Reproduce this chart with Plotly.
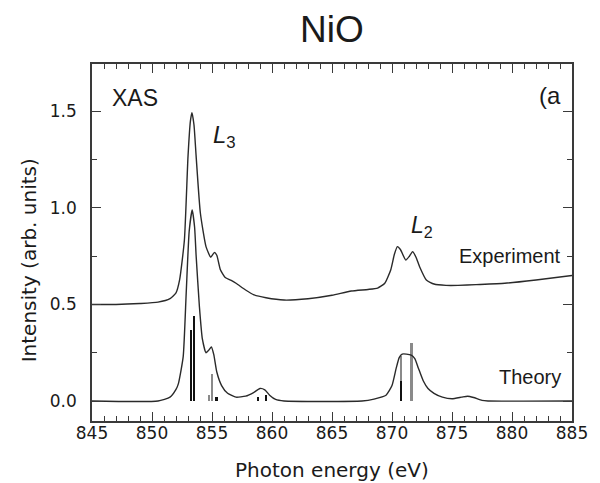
import plotly.graph_objects as go

# Experimental Ni L-edge XAS of NiO (offset by 0.5)
exp_energy = [845.0, 847.0, 849.0, 850.5, 851.5, 852.0, 852.3, 852.7, 853.0, 853.2,
              853.33, 853.5, 853.68, 854.03, 854.5, 854.9, 855.2, 855.4, 855.7, 856.1,
              856.6, 857.0, 857.8, 858.5, 859.5, 861.0, 863.0, 865.0, 866.6, 868.0,
              868.8, 869.4, 869.9, 870.2, 870.45, 870.7, 871.15, 871.45, 871.72, 872.0,
              872.3, 872.86, 873.5, 874.5, 875.5, 877.0, 879.4, 882.0, 885.0]
exp_intensity = [0.50, 0.50, 0.505, 0.512, 0.53, 0.56, 0.627, 0.834, 1.266, 1.45,
                 1.494, 1.43, 1.266, 0.974, 0.80, 0.745, 0.77, 0.755, 0.68, 0.64,
                 0.625, 0.61, 0.575, 0.55, 0.535, 0.523, 0.53, 0.548, 0.57, 0.578,
                 0.585, 0.61, 0.68, 0.76, 0.80, 0.785, 0.73, 0.75, 0.774, 0.745,
                 0.696, 0.627, 0.606, 0.599, 0.599, 0.603, 0.61, 0.627, 0.65]

# Calculated spectrum (broadened)
theo_energy = [845.0, 850.5, 851.5, 852.0, 852.2, 852.6, 852.85, 853.1, 853.35, 853.55,
               853.68, 853.95, 854.2, 854.5, 854.75, 854.95, 855.15, 855.4, 855.8, 856.3,
               857.0, 857.8, 858.5, 859.0, 859.4, 859.8, 860.3, 861.0, 867.5, 868.5,
               869.5, 870.0, 870.35, 870.6, 870.85, 871.2, 871.6, 871.9, 872.2, 872.6,
               873.0, 873.5, 874.2, 875.0, 875.8, 876.3, 876.8, 877.5, 878.0, 885.0]
theo_intensity = [0.0, 0.0, 0.02, 0.06, 0.09, 0.23, 0.56, 0.88, 0.99, 0.90,
                  0.75, 0.49, 0.32, 0.25, 0.265, 0.28, 0.24, 0.15, 0.08, 0.04,
                  0.02, 0.025, 0.045, 0.065, 0.058, 0.03, 0.008, 0.0, 0.0, 0.01,
                  0.03, 0.08, 0.17, 0.225, 0.243, 0.243, 0.238, 0.22, 0.17, 0.105,
                  0.065, 0.04, 0.02, 0.012, 0.02, 0.025, 0.018, 0.003, 0.0, 0.0]

# Multiplet lines (unbroadened)
gray_line_energy = [854.75, 855.05, 870.8, 871.65]
gray_line_height = [0.03, 0.14, 0.235, 0.30]
black_line_energy = [853.28, 853.5, 855.4, 858.85, 859.5, 870.8]
black_line_height = [0.37, 0.44, 0.02, 0.02, 0.03, 0.105]

x_ticks = [845, 850, 855, 860, 865, 870, 875, 880, 885]
y_ticks = [0.0, 0.5, 1.0, 1.5]

ink = "#1a1a1a"
frame = "#3a3a3a"

fig = go.Figure()

fig.add_trace(go.Bar(x=gray_line_energy, y=gray_line_height, width=0.14,
                     marker=dict(color="#8a8a8a", line=dict(width=0)),
                     showlegend=False, hoverinfo="skip"))
fig.add_trace(go.Bar(x=black_line_energy, y=black_line_height, width=0.14,
                     marker=dict(color="#111111", line=dict(width=0)),
                     showlegend=False, hoverinfo="skip"))

fig.add_trace(go.Scatter(x=exp_energy, y=exp_intensity, mode="lines",
                         line=dict(color="#2a2a2a", width=1.4, shape="spline", smoothing=0.5),
                         showlegend=False, hoverinfo="skip"))
fig.add_trace(go.Scatter(x=theo_energy, y=theo_intensity, mode="lines",
                         line=dict(color="#2a2a2a", width=1.4, shape="spline", smoothing=0.5),
                         showlegend=False, hoverinfo="skip"))

axis_common = dict(showline=True, linecolor=frame, linewidth=1.5, mirror="ticks",
                   ticks="inside", tickcolor=frame, tickwidth=1.2, ticklen=9,
                   showgrid=False, zeroline=False,
                   tickfont=dict(family="DejaVu Sans", size=17, color=ink))

fig.update_xaxes(range=[845, 885], tickvals=x_ticks, ticklabelstandoff=-4,
                 minor=dict(dtick=1, ticks="inside", ticklen=5, tickcolor=frame, tickwidth=1),
                 **axis_common)
fig.update_yaxes(range=[-0.1036, 1.746], tickvals=y_ticks, tickformat=".1f",
                 ticklabelstandoff=10,
                 minor=dict(dtick=0.25, ticks="inside", ticklen=5, tickcolor=frame, tickwidth=1),
                 **axis_common)

def label(text, x, y, size, family="Liberation Sans", xanchor="center", yanchor="middle", angle=0):
    fig.add_annotation(text=text, x=x, y=y, xref="paper", yref="paper",
                       xanchor=xanchor, yanchor=yanchor, showarrow=False, textangle=angle,
                       font=dict(family=family, size=size, color=ink))

label("NiO", 0.5, 1.098, 37)
label("XAS", 0.0367, 0.906, 23, xanchor="left")
label("(a", 0.9816, 0.913, 24, xanchor="right")
label("<i>L</i><sub>3</sub>", 0.247, 0.798, 24, xanchor="left")
label("<i>L</i><sub>2</sub>", 0.661, 0.546, 23, xanchor="left")
label("Experiment", 0.982, 0.462, 20, xanchor="right")
label("Theory", 0.982, 0.122, 20, xanchor="right")
label("Photon energy (eV)", 0.5, -0.137, 20, family="DejaVu Sans")
label("Intensity (arb. units)", -0.1306, 0.451, 20, family="DejaVu Sans", angle=-90)

fig.update_layout(width=600, height=483, margin=dict(l=92, r=18, t=64, b=62),
                  paper_bgcolor="white", plot_bgcolor="white", barmode="overlay",
                  bargap=0)

fig.write_html("out.html")
